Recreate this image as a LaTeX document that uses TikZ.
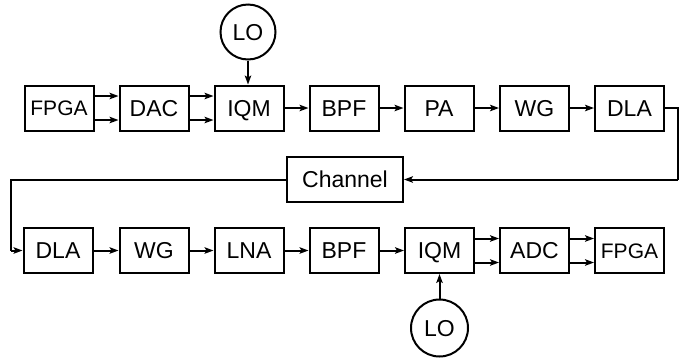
\documentclass[tikz,border=0pt]{standalone}
\usepackage{fontspec}
\setmainfont{Liberation Sans}
\usetikzlibrary{arrows.meta}
\begin{document}
\begin{tikzpicture}[x=1pt,y=-1pt,
  blk/.style={draw,line width=2pt,minimum width=69pt,minimum height=45pt,inner sep=0pt,text height=16.5pt,text depth=0pt,font=\fontsize{23}{26}\selectfont},
  small/.style={font=\fontsize{21}{24}\selectfont,text height=15pt},
  osc/.style={draw,circle,line width=2pt,minimum size=55pt,inner sep=0pt,text height=16.5pt,text depth=0pt,font=\fontsize{23}{26}\selectfont},
  arr/.style={line width=2pt,-{Stealth[length=9pt,width=6.5pt,inset=2pt]}},
  wire/.style={line width=2pt}]
\useasboundingbox (0,0) rectangle (694,360);
% top row
\node[blk,small] (f1) at (59,108) {FPGA};
\node[blk] (d1) at (154,108) {DAC};
\node[blk] (q1) at (249,108) {IQM};
\node[blk] (b1) at (344,108) {BPF};
\node[blk] (p1) at (439,108) {PA};
\node[blk] (w1) at (534.5,108) {WG};
\node[blk] (l1) at (629.5,108) {DLA};
\node[osc] (o1) at (248,32) {LO};
% channel
\node[blk,minimum width=116pt] (ch) at (345,179.5) {Channel};
% bottom row
\node[blk] (l2) at (58,250.5) {DLA};
\node[blk] (w2) at (154,250.5) {WG};
\node[blk] (n2) at (249,250.5) {LNA};
\node[blk] (b2) at (344,250.5) {BPF};
\node[blk] (q2) at (439.5,250.5) {IQM};
\node[blk] (a2) at (534.5,250.5) {ADC};
\node[blk,small] (f2) at (629.5,250.5) {FPGA};
\node[osc,minimum size=57pt] (o2) at (439.5,328) {LO};
% coordinates for bends
\coordinate (r1) at (678,108);
\coordinate (r2) at (678,179.5);
\coordinate (s1) at (11,179.5);
\coordinate (s2) at (11,250.5);
% top connections
\draw[arr] ([yshift=-12pt]f1.east) -- ([yshift=-12pt]d1.west);
\draw[arr] ([yshift=12pt]f1.east) -- ([yshift=12pt]d1.west);
\draw[arr] ([yshift=-12pt]d1.east) -- ([yshift=-12pt]q1.west);
\draw[arr] ([yshift=12pt]d1.east) -- ([yshift=12pt]q1.west);
\draw[arr] (o1.south) -- (o1.south |- q1.north);
\draw[arr] (q1) -- (b1);
\draw[arr] (b1) -- (p1);
\draw[arr] (p1) -- (w1);
\draw[arr] (w1) -- (l1);
\draw[wire] (l1.east) -- (r1) -- (r2);
\draw[arr] (r2) -- (ch.east);
\draw[wire] (ch.west) -- (s1) -- (s2);
\draw[arr] (s2) -- (l2.west);
% bottom connections
\draw[arr] (l2) -- (w2);
\draw[arr] (w2) -- (n2);
\draw[arr] (n2) -- (b2);
\draw[arr] (b2) -- (q2);
\draw[arr] ([yshift=-12pt]q2.east) -- ([yshift=-12pt]a2.west);
\draw[arr] ([yshift=12pt]q2.east) -- ([yshift=12pt]a2.west);
\draw[arr] ([yshift=-12pt]a2.east) -- ([yshift=-12pt]f2.west);
\draw[arr] ([yshift=12pt]a2.east) -- ([yshift=12pt]f2.west);
\draw[arr] (o2.north) -- (q2.south);
\end{tikzpicture}
\end{document}
